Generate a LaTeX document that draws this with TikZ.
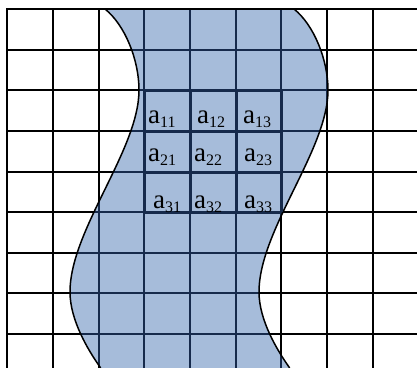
\documentclass[tikz,border=0pt]{standalone}
\usepackage{fontspec}
\setmainfont{Liberation Serif}
\newfontfamily\tnrfont{Liberation Serif}
\definecolor{blobfill}{RGB}{166,188,218}
\definecolor{navyline}{RGB}{22,42,75}
\newcommand\blobpath{(105,9) .. controls (125,25) and (139,60) .. (139,90) .. controls (139,150) and (70,230) .. (70,292) .. controls (70,320) and (88,350) .. (100,367) -- (104,375) -- (293,375) -- (289,367) .. controls (277,350) and (259,320) .. (259,292) .. controls (259,230) and (328,150) .. (328,90) .. controls (328,60) and (314,25) .. (294,9) -- cycle}
\newcommand\subtxt[1]{\raisebox{-4pt}{\tnrfont\fontsize{16}{16}\selectfont #1}}
\tikzset{
  gridline/.style={black, line width=2pt},
  innerline/.style={navyline, line width=2pt},
  matline/.style={navyline, line width=3pt},
  outline/.style={black, line width=1.5pt},
  lab/.style={anchor=base west, inner sep=0pt, font=\tnrfont\fontsize{27}{27}\selectfont}
}
\begin{document}
\begin{tikzpicture}[x=1pt,y=-1pt]
\useasboundingbox (0,0) rectangle (417,367);
\clip (0,0) rectangle (417,367);
\fill[white] (0,0) rectangle (417,367);
% black grid
\foreach \x in {7,53,99,144,190,236,281,327,373}
  \draw[gridline] (\x,9) -- (\x,370);
\foreach \y in {9,50,90,131,172,212,253,293,334}
  \draw[gridline] (6,\y) -- (420,\y);
% blob
\fill[blobfill] \blobpath;
\begin{scope}
  \clip \blobpath;
  \foreach \x in {99,144,190,236,281,327}
    \draw[innerline] (\x,0) -- (\x,370);
  \foreach \y in {50,90,131,172,212,253,293,334}
    \draw[innerline] (0,\y) -- (420,\y);
\end{scope}
% blob outline
\draw[outline] (105,9) .. controls (125,25) and (139,60) .. (139,90) .. controls (139,150) and (70,230) .. (70,292) .. controls (70,320) and (88,350) .. (100,367) -- (104,375);
\draw[outline] (294,9) .. controls (314,25) and (328,60) .. (328,90) .. controls (328,150) and (259,230) .. (259,292) .. controls (259,320) and (277,350) .. (289,367) -- (293,375);
\draw[gridline] (6,9) -- (420,9);
% matrix block
\foreach \x in {144,190,236,281}
  \draw[matline] (\x,90) -- (\x,212);
\foreach \y in {90,131,172,212}
  \draw[matline] (144,\y) -- (281,\y);
% labels
\node[lab] (a11) at (148,123) {a\subtxt{11}};
\node[lab] (a12) at (197,123) {a\subtxt{12}};
\node[lab] (a13) at (243,123) {a\subtxt{13}};
\node[lab] (a21) at (148,161) {a\subtxt{21}};
\node[lab] (a22) at (194,161) {a\subtxt{22}};
\node[lab] (a23) at (244,161) {a\subtxt{23}};
\node[lab] (a31) at (153,208) {a\subtxt{31}};
\node[lab] (a32) at (194,208) {a\subtxt{32}};
\node[lab] (a33) at (244,208) {a\subtxt{33}};
\end{tikzpicture}
\end{document}
